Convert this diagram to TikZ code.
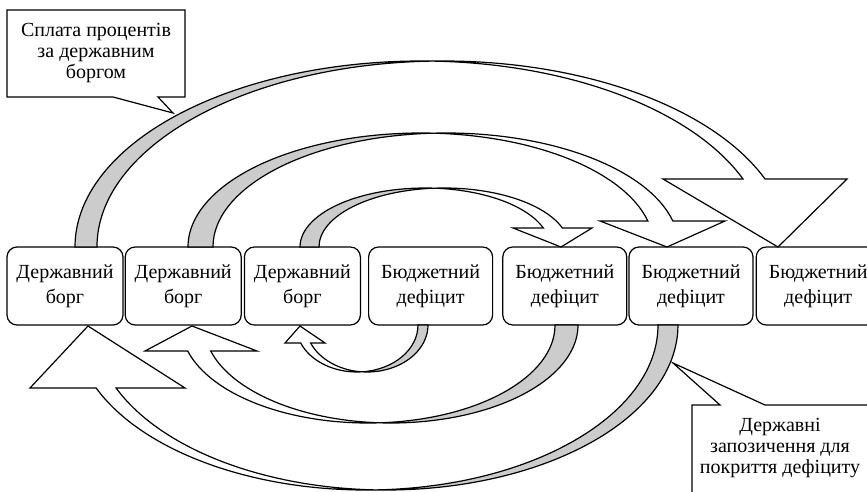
\documentclass[tikz,border=0pt]{standalone}
\usepackage{fontspec}
\setmainfont{Liberation Serif}
\usepackage{tikz}
\usetikzlibrary{positioning}

% curved arrow over the boxes: foot x, width, half span, height, head depth, head left, head right, tip
\newcommand{\arcover}[8]{%
  \pgfmathsetmacro{\thi}{acos(#2/(2*#3))}%
  \pgfmathsetmacro{\tho}{180-\thi}%
  \pgfmathsetmacro{\thh}{asin(#5/#4)}%
  \pgfmathsetmacro{\xl}{#1+#3+#3*cos(\thh)}%
  \filldraw[back] (#1,-247) arc[start angle=180,end angle=\thi,x radius=#3pt,y radius=#4pt]
    arc[start angle=\tho,end angle=180,x radius=#3pt,y radius=#4pt] -- cycle;
  \filldraw[front] (#7,-247+#5) -- (#8,-247) -- (#6,-247+#5) -- (\xl,-247+#5)
    arc[start angle=\thh,end angle=\thi,x radius=#3pt,y radius=#4pt]
    arc[start angle=\tho,end angle=\thh,x radius=#3pt,y radius=#4pt] -- cycle;
}
% curved arrow under the boxes
\newcommand{\arcunder}[8]{%
  \pgfmathsetmacro{\thi}{-acos(#2/(2*#3))}%
  \pgfmathsetmacro{\tho}{-180-\thi}%
  \pgfmathsetmacro{\thh}{-180+asin(#5/#4)}%
  \pgfmathsetmacro{\xl}{#1-#3+#3*cos(\thh)}%
  \filldraw[back] (#1,-325) arc[start angle=0,end angle=\thi,x radius=#3pt,y radius=#4pt]
    arc[start angle=\tho,end angle=0,x radius=#3pt,y radius=#4pt] -- cycle;
  \filldraw[front] (#7,-325-#5) -- (#8,-326) -- (#6,-325-#5) -- (\xl,-325-#5)
    arc[start angle=\thh,end angle=\thi,x radius=#3pt,y radius=#4pt]
    arc[start angle=\tho,end angle=\thh,x radius=#3pt,y radius=#4pt] -- cycle;
}

\begin{document}
\begin{tikzpicture}[x=1pt,y=1pt,line width=1.2pt,line join=miter,
  box/.style={rectangle,rounded corners=10pt,draw,fill=white,inner sep=0pt,
    minimum width=116pt,minimum height=78pt,align=center,
    font=\fontsize{20}{25}\selectfont},
  wide/.style={box,minimum width=124pt},
  back/.style={draw,fill=gray!40},
  front/.style={draw,fill=white},
  note/.style={align=center,font=\fontsize{20}{21}\selectfont}]

  \useasboundingbox (0,0) rectangle (867,-492);

  \node[box] (debt1) at (65,-286) {Державний\\борг};
  \node[box] (debt2) [right=1pt of debt1] {Державний\\борг};
  \node[box] (debt3) [right=2pt of debt2] {Державний\\борг};
  \node[wide] (def1) [right=7pt of debt3] {Бюджетний\\дефіцит};
  \node[wide] (def2) [right=9pt of def1] {Бюджетний\\дефіцит};
  \node[wide] (def3) [right=1pt of def2] {Бюджетний\\дефіцит};
  \node[wide] (def4) [right=2pt of def3] {Бюджетний\\дефіцит};

  % interest payments
  \arcover{75}{22}{346}{186}{68}{663}{847}{778}
  \arcover{188}{25}{233}{114}{26}{600}{725}{667}
  \arcover{300}{19}{125}{59}{19}{513}{592}{561}

  % borrowing
  \arcunder{418}{10}{61}{47}{18}{285}{325}{300}
  \arcunder{555}{23}{187}{98}{26}{145}{257}{192}
  \arcunder{658}{20}{292}{165}{63}{30}{185}{88}

  % callouts
  \draw[fill=white] (7,-10) -- (185,-10) -- (185,-97) -- (158,-97) -- (173,-113)
    -- (113,-97) -- (7,-97) -- cycle;
  \node[note] (interest) at (96,-53) {Сплата процентів\\за державним\\боргом};

  \draw[fill=white] (692,-405) -- (720,-405) -- (673,-363) -- (765,-405)
    -- (880,-405) -- (880,-500) -- (692,-500) -- cycle;
  \node[note] (loans) at (780,-448) {Державні\\запозичення для\\покриття дефіциту};

\end{tikzpicture}
\end{document}
